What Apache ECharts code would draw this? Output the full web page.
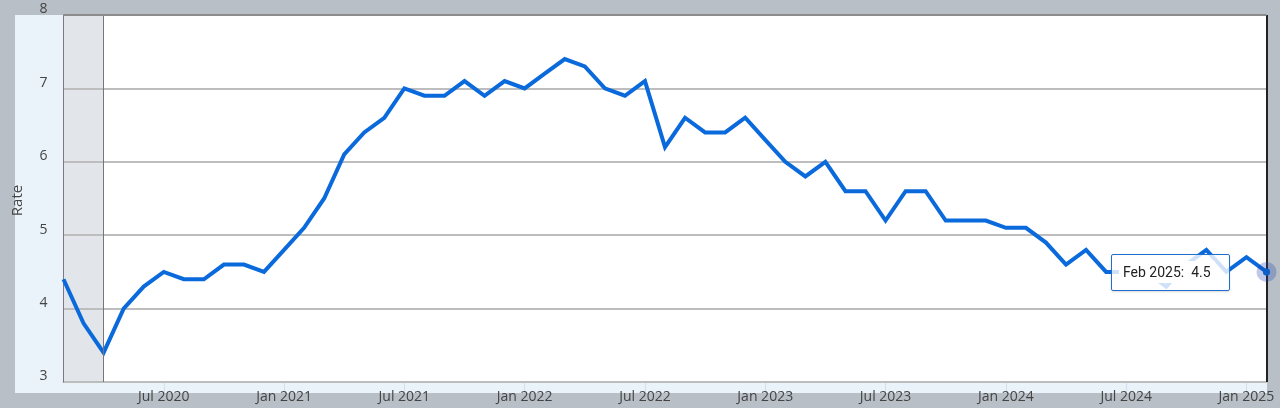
<!DOCTYPE html>
<html>
<head>
<meta charset="utf-8">
<title>Rate</title>
<style>
html,body{margin:0;padding:0;background:#b9bfc7;}
#chart{width:1280px;height:408px;}
</style>
<script src="https://cdn.jsdelivr.net/npm/echarts@6/dist/echarts.min.js"></script>
</head>
<body>
<div id="chart"></div>
<script>
var months = [
	'Feb 2020','Mar 2020','Apr 2020','May 2020','Jun 2020','Jul 2020','Aug 2020','Sep 2020','Oct 2020','Nov 2020','Dec 2020',
	'Jan 2021','Feb 2021','Mar 2021','Apr 2021','May 2021','Jun 2021','Jul 2021','Aug 2021','Sep 2021','Oct 2021','Nov 2021','Dec 2021',
	'Jan 2022','Feb 2022','Mar 2022','Apr 2022','May 2022','Jun 2022','Jul 2022','Aug 2022','Sep 2022','Oct 2022','Nov 2022','Dec 2022',
	'Jan 2023','Feb 2023','Mar 2023','Apr 2023','May 2023','Jun 2023','Jul 2023','Aug 2023','Sep 2023','Oct 2023','Nov 2023','Dec 2023',
	'Jan 2024','Feb 2024','Mar 2024','Apr 2024','May 2024','Jun 2024','Jul 2024','Aug 2024','Sep 2024','Oct 2024','Nov 2024','Dec 2024',
	'Jan 2025','Feb 2025'
];
var rates = [
	4.4,3.8,3.4,4.0,4.3,4.5,4.4,4.4,4.6,4.6,4.5,
	4.8,5.1,5.5,6.1,6.4,6.6,7.0,6.9,6.9,7.1,6.9,7.1,
	7.0,7.2,7.4,7.3,7.0,6.9,7.1,6.2,6.6,6.4,6.4,6.6,
	6.3,6.0,5.8,6.0,5.6,5.6,5.2,5.6,5.6,5.2,5.2,5.2,
	5.1,5.1,4.9,4.6,4.8,4.5,4.5,4.5,4.3,4.6,4.8,4.5,
	4.7,4.5
];
var tickMonths = ['Jul 2020','Jan 2021','Jul 2021','Jan 2022','Jul 2022','Jan 2023','Jul 2023','Jan 2024','Jul 2024','Jan 2025'];
var recession = ['Feb 2020','Apr 2020'];
var lastMonth = months[months.length-1];
var lastRate = rates[rates.length-1];

function isTick(index,value){
	return tickMonths.indexOf(value) >= 0;
}

var chart = echarts.init(document.getElementById('chart'),null,{renderer:'canvas'});
chart.setOption({
	animation:false,
	backgroundColor:'#b9bfc7',
	textStyle:{fontFamily:'"Open Sans"'},
	// light blue panel behind the axes
	graphic:[{
		type:'rect',
		z:-10,
		silent:true,
		shape:{x:15,y:15,width:1252,height:378},
		style:{fill:'#eaf2fa'}
	}],
	grid:{
		left:63.5,
		right:13.5,
		top:15,
		height:367,
		show:true,
		backgroundColor:'#ffffff',
		borderWidth:0
	},
	tooltip:{
		show:true,
		trigger:'axis',
		axisPointer:{type:'none'},
		alwaysShowContent:true,
		transitionDuration:0,
		padding:[5,10],
		backgroundColor:'rgba(255,255,255,0.8)',
		borderColor:'#1f6fd0',
		borderWidth:1,
		extraCssText:'border-radius:2px;box-shadow:0 1px 2px rgba(0,0,0,0.15);width:97px;height:25px;line-height:25px;white-space:nowrap;',
		position:function(){ return [1111,254]; },
		textStyle:{fontFamily:'Roboto',fontSize:14,color:'#222222'},
		formatter:function(p){
			return '<span style="background:#fff;padding:3px 4px;margin-left:-3px">'+p[0].name+':&nbsp;&nbsp;'+p[0].value+'</span>';
		}
	},
	xAxis:{
		type:'category',
		data:months,
		boundaryGap:false,
		axisLine:{show:true,lineStyle:{color:'#c4c7cb',width:2}},
		axisTick:{show:true,length:11,interval:isTick,lineStyle:{color:'#d3dfee',width:1}},
		axisLabel:{show:true,interval:isTick,hideOverlap:false,color:'#444444',fontSize:14,margin:8},
		splitLine:{show:false}
	},
	yAxis:{
		type:'value',
		min:3,
		max:8,
		interval:1,
		z:1.5,
		name:'Rate',
		nameLocation:'middle',
		nameGap:38,
		nameTextStyle:{color:'#444444',fontSize:15,padding:[0,4,0,0]},
		axisLine:{show:true,onZero:false,lineStyle:{color:'#7a7a7a',width:1}},
		axisTick:{show:false},
		axisLabel:{color:'#444444',fontSize:14,margin:16,verticalAlign:'bottom',lineHeight:11},
		splitLine:{show:true,lineStyle:{color:'#bdbdbd',width:2}}
	},
	series:[{
		type:'line',
		data:rates,
		showSymbol:false,
		symbol:'circle',
		clip:false,
		emphasis:{disabled:true},
		lineStyle:{color:'#0a6adc',width:4,join:'miter'},
		itemStyle:{color:'#0a6adc'},
		markArea:{
			silent:true,
			z:1,
			itemStyle:{color:'#e2e6ea'},
			data:[[{xAxis:recession[0]},{xAxis:recession[1]}]]
		},
		markLine:{
			silent:true,
			symbol:'none',
			label:{show:false},
			data:[
				{xAxis:recession[1],lineStyle:{color:'#777777',width:1,type:'solid'}},
				{xAxis:lastMonth,lineStyle:{color:'#222222',width:2,type:'solid'}},
				{yAxis:8,lineStyle:{color:'#8c8c8c',width:2,type:'solid'}}
			]
		},
		markPoint:{
			silent:true,
			animation:false,
			label:{show:false},
			data:[
				{coord:[lastMonth,lastRate],symbol:'circle',symbolSize:20,itemStyle:{color:'rgba(30,60,170,0.28)'}},
				{coord:[lastMonth,lastRate],symbol:'circle',symbolSize:7,itemStyle:{color:'#0a5fc8'}}
			]
		}
	}]
});
chart.dispatchAction({type:'showTip',seriesIndex:0,dataIndex:months.length-1});
</script>
</body>
</html>
